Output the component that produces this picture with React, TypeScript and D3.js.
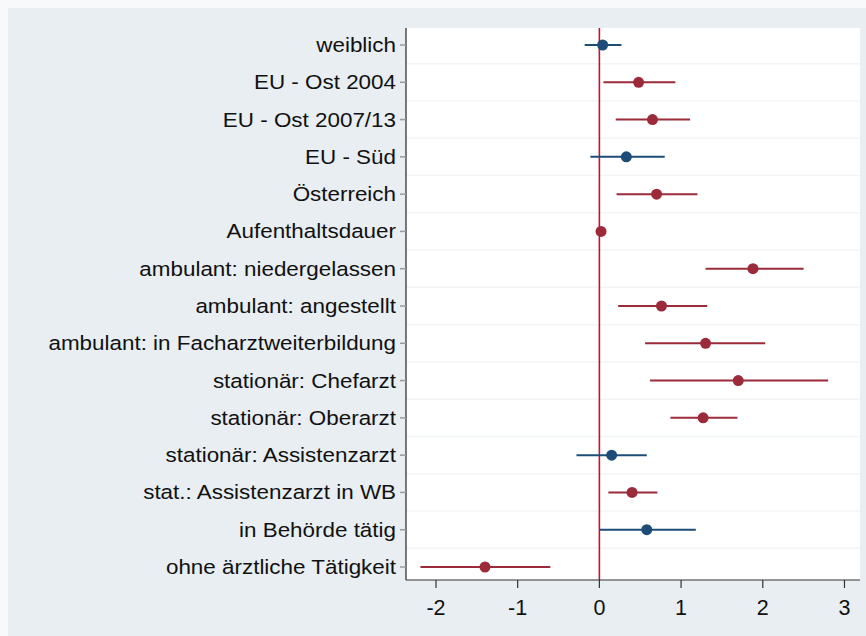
import React from "react";
import * as d3 from "d3";

const categories = [
  "weiblich",
  "EU - Ost 2004",
  "EU - Ost 2007/13",
  "EU - Süd",
  "Österreich",
  "Aufenthaltsdauer",
  "ambulant: niedergelassen",
  "ambulant: angestellt",
  "ambulant: in Facharztweiterbildung",
  "stationär: Chefarzt",
  "stationär: Oberarzt",
  "stationär: Assistenzarzt",
  "stat.: Assistenzarzt in WB",
  "in Behörde tätig",
  "ohne ärztliche Tätigkeit",
];
const estimates = [0.04, 0.48, 0.65, 0.33, 0.7, 0.02, 1.88, 0.76, 1.3, 1.7, 1.27, 0.15, 0.4, 0.58, -1.4];
const ciLow = [-0.18, 0.05, 0.2, -0.11, 0.21, 0.0, 1.3, 0.23, 0.56, 0.62, 0.87, -0.28, 0.11, 0.0, -2.19];
const ciHigh = [0.27, 0.93, 1.11, 0.8, 1.2, 0.04, 2.5, 1.32, 2.03, 2.8, 1.69, 0.58, 0.71, 1.18, -0.6];
const significant = [false, true, true, false, true, true, true, true, true, true, true, false, true, false, true];
const xTicks = [-2, -1, 0, 1, 2, 3];

const W = 866;
const H = 636;
const left = 406;
const right = 860;
const top = 28;
const bottom = 580;

const RED = "#9c2b3a";
const BLUE = "#1d4d77";
const font = "'Liberation Sans', Arial, Helvetica, sans-serif";

export default function App() {
  const x = d3.scaleLinear().domain([-2.367, 3.19]).range([left, right]);
  const y = d3.scalePoint<string>().domain(categories).range([45, 567]);
  const step = y.step();

  return (
    <svg
      width={W}
      height={H}
      style={{ position: "absolute", left: 0, top: 0, display: "block" }}
      fontFamily={font}
    >
      <rect x={0} y={0} width={W} height={H} fill="#f7f9fa" />
      <rect x={8} y={8} width={W - 8} height={H - 8} fill="#e8eef1" />
      <rect x={left} y={top} width={right - left} height={bottom - top} fill="#ffffff" />
      {categories.slice(0, -1).map((c, i) => (
        <line
          key={"g" + i}
          x1={left}
          x2={right}
          y1={(y(c) as number) + step / 2}
          y2={(y(c) as number) + step / 2}
          stroke="#f2f5f6"
          strokeWidth={1.5}
        />
      ))}
      <line x1={x(0)} x2={x(0)} y1={top} y2={bottom} stroke="#c41237" strokeWidth={1.6} />
      {categories.map((c, i) => {
        const col = significant[i] ? RED : BLUE;
        const yy = y(c) as number;
        return (
          <g key={"m" + i}>
            <line x1={x(ciLow[i])} x2={x(ciHigh[i])} y1={yy} y2={yy} stroke={col} strokeWidth={2} />
            <circle cx={x(estimates[i])} cy={yy} r={5.5} fill={col} />
          </g>
        );
      })}
      <line x1={left} x2={left} y1={top} y2={bottom} stroke="#222" strokeWidth={1.2} />
      <line x1={left} x2={right} y1={bottom} y2={bottom} stroke="#333" strokeWidth={1.2} />
      {xTicks.map((t) => (
        <g key={"t" + t}>
          <line x1={x(t)} x2={x(t)} y1={bottom} y2={bottom + 8} stroke="#333" strokeWidth={1.2} />
          <text x={x(t)} y={bottom + 35} textAnchor="middle" fontSize={21.5} fill="#111">
            {t < 0 ? "-" + Math.abs(t) : String(t)}
          </text>
        </g>
      ))}
      {categories.map((c, i) => {
        const yy = y(c) as number;
        return (
          <g key={"l" + i}>
            <line x1={left - 6} x2={left} y1={yy} y2={yy} stroke="#999" strokeWidth={1.5} />
            <g transform={`translate(${left - 10},${yy}) scale(1.15,1)`}>
              <text x={0} y={0} dy="0.36em" textAnchor="end" fontSize={19.5} fill="#111">
                {c}
              </text>
            </g>
          </g>
        );
      })}
    </svg>
  );
}
